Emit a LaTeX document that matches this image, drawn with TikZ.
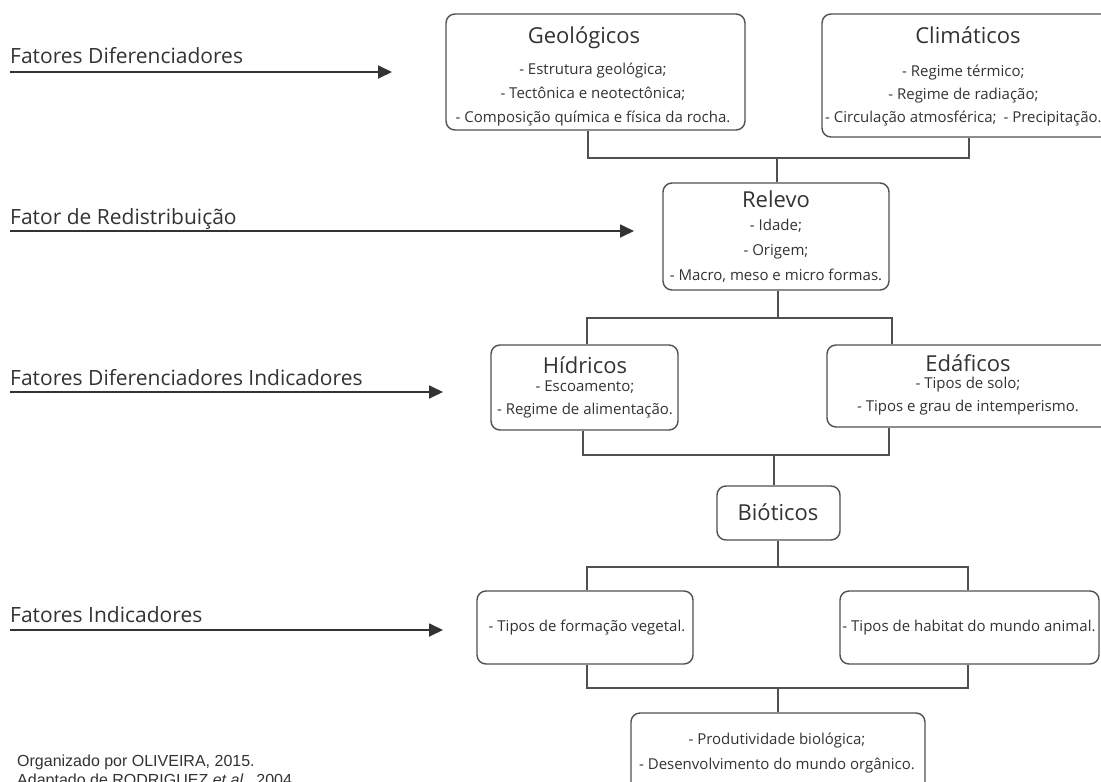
\documentclass[tikz,border=0pt]{standalone}
\usepackage{fontspec}
\setmainfont{Open Sans}
\newfontfamily\notefont{Liberation Sans}
\usetikzlibrary{arrows.meta}
\definecolor{ink}{HTML}{333333}
\definecolor{edge}{HTML}{505050}
\tikzset{
  box/.style={draw=edge, line width=1.4pt, rounded corners=9pt, inner sep=0pt},
  link/.style={draw=edge, line width=1.4pt},
  head/.style={text=ink, font=\fontsize{22}{26}\selectfont, inner sep=0pt, anchor=base},
  body/.style={text=ink, font=\fontsize{15}{24}\selectfont, align=center, inner sep=0pt},
  tag/.style={text=ink, font=\fontsize{21}{25}\selectfont, anchor=base west, inner sep=0pt},
  flow/.style={draw=ink, line width=1.8pt, -{Triangle[length=14pt,width=13pt]}},
}
\begin{document}
\begin{tikzpicture}[x=1pt,y=-1pt]
\useasboundingbox (0,0) rectangle (1101,782);
\clip (0,0) rectangle (1101,782);
\fill[white] (0,0) rectangle (1101,782);

% factor labels and their arrows
\node[tag] (t1) at (10,63) {Fatores Diferenciadores};
\coordinate (t1e) at (392,72);
\draw[flow] (t1.base west |- t1e) -- (t1e);
\node[tag] (t2) at (10,224) {Fator de Redistribuição};
\coordinate (t2e) at (634,231);
\draw[flow] (t2.base west |- t2e) -- (t2e);
\node[tag] (t3) at (10,385) {Fatores Diferenciadores Indicadores};
\coordinate (t3e) at (443,392);
\draw[flow] (t3.base west |- t3e) -- (t3e);
\node[tag] (t4) at (10,622) {Fatores Indicadores};
\coordinate (t4e) at (443,630);
\draw[flow] (t4.base west |- t4e) -- (t4e);

% boxes
\node[box, minimum width=299pt, minimum height=116pt] (geo) at (595.5,72) {};
\node[head] (geo-h) at (584,43) {Geológicos};
\node[body] (geo-b) at (593,95) {- Estrutura geológica;\\- Tectônica e neotectônica;\\- Composição química e física da rocha.};

\node[box, minimum width=292pt, minimum height=123pt] (cli) at (968,75.5) {};
\node[head] (cli-h) at (968,43) {Climáticos};
\node[body, font=\fontsize{15}{23}\selectfont, anchor=west] (cli-b) at (825,96) {- Regime térmico;\\- Regime de radiação;\\- Circulação atmosférica;\hspace{7pt}- Precipitação.};

\node[box, minimum width=226pt, minimum height=107pt] (rel) at (776,236.5) {};
\node[head] (rel-h) at (776,207) {Relevo};
\node[body, font=\fontsize{15}{25}\selectfont] (rel-b) at (776,251) {- Idade;\\- Origem;\\- Macro, meso e micro formas.};

\node[box, minimum width=187pt, minimum height=85pt] (hid) at (584.5,387.5) {};
\node[head] (hid-h) at (585,373) {Hídricos};
\node[body, font=\fontsize{15}{23}\selectfont] (hid-b) at (585,399) {- Escoamento;\\- Regime de alimentação.};

\node[box, minimum width=283pt, minimum height=82pt] (eda) at (968.5,386) {};
\node[head] (eda-h) at (968,371) {Edáficos};
\node[body, font=\fontsize{15}{23}\selectfont] (eda-b) at (968,396.5) {- Tipos de solo;\\- Tipos e grau de intemperismo.};

\node[box, minimum width=123pt, minimum height=54pt] (bio) at (778.5,513) {};
\node[head] (bio-h) at (778,520) {Bióticos};

\node[box, minimum width=216pt, minimum height=73pt] (veg) at (585,627.5) {};
\node[body] (veg-b) at (587,628) {- Tipos de formação vegetal.};

\node[box, minimum width=259pt, minimum height=73pt] (ani) at (969.5,627.5) {};
\node[body] (ani-b) at (969,628) {- Tipos de habitat do mundo animal.};

\node[box, minimum width=294pt, minimum height=87pt] (out) at (778,756.5) {};
\node[body, font=\fontsize{15}{25}\selectfont] (out-b) at (777,753.5) {- Produtividade biológica;\\- Desenvolvimento do mundo orgânico.};

% junction points of the bracket connectors
\coordinate (a1) at (588,158);
\coordinate (a2) at (969,158);
\coordinate (a0) at (777,158);
\coordinate (b1) at (587,318);
\coordinate (b2) at (892,318);
\coordinate (b0) at (778,318);
\coordinate (c1) at (583,455);
\coordinate (c2) at (889,455);
\coordinate (c0) at (774,455);
\coordinate (d1) at (587,567);
\coordinate (d2) at (968,567);
\coordinate (d0) at (778,567);
\coordinate (e1) at (587,688);
\coordinate (e2) at (968,688);
\coordinate (e0) at (778,688);

% connectors
\draw[link] (geo.south -| a1) -- (a1) -- (a2) -- (cli.south -| a2);
\draw[link] (a0) -- (rel.north -| a0);
\draw[link] (rel.south -| b0) -- (b0);
\draw[link] (hid.north -| b1) -- (b1) -- (b2) -- (eda.north -| b2);
\draw[link] (hid.south -| c1) -- (c1) -- (c2) -- (eda.south -| c2);
\draw[link] (c0) -- (bio.north -| c0);
\draw[link] (bio.south -| d0) -- (d0);
\draw[link] (veg.north -| d1) -- (d1) -- (d2) -- (ani.north -| d2);
\draw[link] (veg.south -| e1) -- (e1) -- (e2) -- (ani.south -| e2);
\draw[link] (e0) -- (out.north -| e0);

% source note
\node[text=ink, font=\notefont\fontsize{16}{19}\selectfont, align=left, anchor=north west, inner sep=0pt] (note) at (17,755)
  {Organizado por OLIVEIRA, 2015.\\Adaptado de RODRIGUEZ \textit{et al.}, 2004.};
\end{tikzpicture}
\end{document}
